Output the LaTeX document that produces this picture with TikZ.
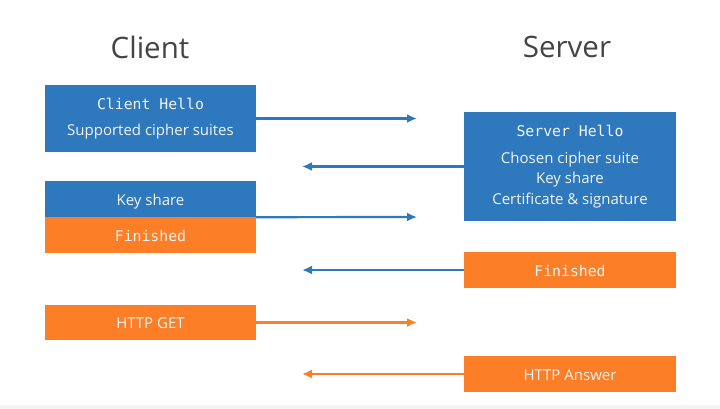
\documentclass[tikz,border=0pt]{standalone}
\usepackage{fontspec}
\setmainfont{Open Sans}
\setmonofont{DejaVu Sans Mono}
\usetikzlibrary{arrows.meta}

\definecolor{tlsblue}{HTML}{2E78BE}
\definecolor{tlsorange}{HTML}{FC7E27}
\definecolor{titlegray}{HTML}{444444}
\definecolor{boxtext}{HTML}{F4F4F4}

\tikzset{
  msgbox/.style={rectangle, text=boxtext, align=center, inner sep=0pt,
    font=\fontsize{15}{20.5}\selectfont},
  clientbox/.style={msgbox, minimum width=211pt},
  serverbox/.style={msgbox, minimum width=212pt},
  oneline/.style={text height=12.5pt, text depth=0pt},
  msgarrow/.style={line width=2.2pt, -{Latex[length=10pt,width=9pt]}},
}

\newcommand{\msgname}[1]{{\ttfamily\fontsize{14.8}{20.5}\selectfont #1}}

\begin{document}
\begin{tikzpicture}[x=1pt, y=-1pt]
\useasboundingbox (0,0) rectangle (720,409);
\fill[gray!8] (0,405) rectangle (720,409);

% Titles
\node[text=titlegray, font=\fontsize{29.5}{34}\selectfont] (client) at (150,47) {Client};
\node[text=titlegray, font=\fontsize{29.5}{34}\selectfont] (server) at (567,47) {Server};

% Client messages
\node[clientbox, fill=tlsblue, minimum height=67pt] (chello) at (150.5,118.5)
  {\msgname{Client Hello}\\[6pt]Supported cipher suites};
\node[clientbox, oneline, fill=tlsblue, minimum height=36pt] (keyshare) at (150.5,199) {Key share};
\node[clientbox, oneline, fill=tlsorange, minimum height=36pt] (cfinished) at (150.5,235) {\msgname{Finished}};
\node[clientbox, oneline, fill=tlsorange, minimum height=35pt] (httpget) at (150.5,322.5) {HTTP GET};

% Server messages
\node[serverbox, fill=tlsblue, minimum height=109pt] (shello) at (570,166.5)
  {\msgname{Server Hello}\\[6pt]Chosen cipher suite\\Key share\\Certificate \& signature};
\node[serverbox, oneline, fill=tlsorange, minimum height=36pt] (sfinished) at (570,270) {\msgname{Finished}};
\node[serverbox, oneline, fill=tlsorange, minimum height=36pt] (answer) at (570,374) {HTTP Answer};

% Arrow ends
\coordinate (toserver1) at (417,118.5);
\coordinate (toclient1) at (302,166.5);
\coordinate (toserver2) at (417,217);
\coordinate (toclient2) at (302,270);
\coordinate (toserver3) at (417,322.5);
\coordinate (toclient3) at (302,374);

% Messages
\draw[msgarrow, tlsblue] (chello.east) -- (toserver1);
\draw[msgarrow, tlsblue] (shello.west) -- (toclient1);
\draw[msgarrow, tlsblue] (keyshare.south east) -- (toserver2);
\draw[msgarrow, tlsblue] (sfinished.west) -- (toclient2);
\draw[msgarrow, tlsorange] (httpget.east) -- (toserver3);
\draw[msgarrow, tlsorange] (answer.west) -- (toclient3);

\end{tikzpicture}
\end{document}
